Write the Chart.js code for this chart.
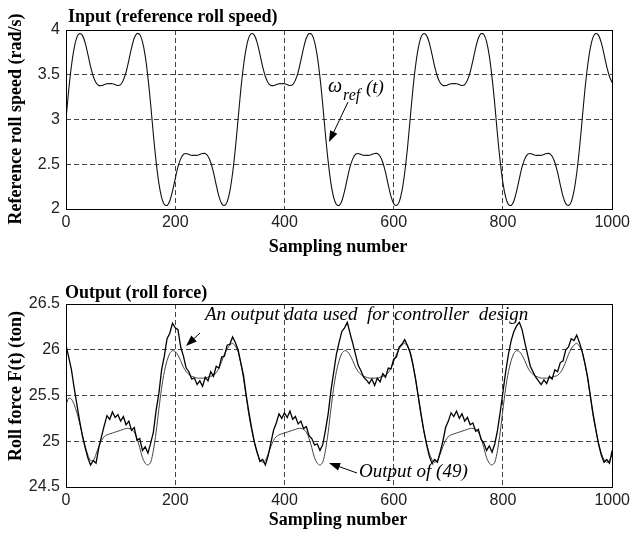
<!DOCTYPE html>
<html>
<head>
<meta charset="utf-8">
<script src="https://cdn.jsdelivr.net/npm/chart.js@4.4.1/dist/chart.umd.min.js"></script>
<style>
  html, body { margin: 0; padding: 0; background: #fff; }
  #wrap { position: relative; width: 634px; height: 535px; }
  .box { position: absolute; left: 0; width: 634px; }
</style>
</head>
<body>
<div id="wrap">
  <div class="box" style="top:0;height:267px"><canvas id="inputChart"></canvas></div>
  <div class="box" style="top:267px;height:268px"><canvas id="outputChart"></canvas></div>
</div>
<script>
// sampling grid: one value every 5 samples, 0..1000
const sampleStep = 5;
const sampleTicks = [0, 200, 400, 600, 800, 1000];
const speedTicks = [2, 2.5, 3, 3.5, 4];
const forceTicks = [24.5, 25, 25.5, 26, 26.5];

// reference roll speed (rad/s)
const refSpeed = [
  3.00,3.33,3.60,3.80,3.92,3.96,3.94,3.86,3.73,3.59,
  3.48,3.41,3.38,3.38,3.39,3.40,3.40,3.40,3.39,3.38,
  3.39,3.44,3.53,3.66,3.80,3.91,3.96,3.95,3.87,3.71,
  3.47,3.17,2.83,2.53,2.29,2.13,2.05,2.04,2.09,2.20,
  2.34,2.47,2.56,2.61,2.62,2.61,2.60,2.60,2.60,2.61,
  2.62,2.62,2.59,2.52,2.41,2.27,2.14,2.06,2.04,2.08,
  2.20,2.40,2.67,
  3.00,3.33,3.60,3.80,3.92,3.96,3.94,3.86,3.73,3.59,
  3.48,3.41,3.38,3.38,3.39,3.40,3.40,3.40,3.39,3.38,
  3.39,3.44,3.53,3.66,3.80,3.91,3.96,3.95,3.87,3.71,
  3.47,3.17,2.83,2.53,2.29,2.13,2.05,2.04,2.09,2.20,
  2.34,2.47,2.56,2.61,2.62,2.61,2.60,2.60,2.60,2.61,
  2.62,2.62,2.59,2.52,2.41,2.27,2.14,2.06,2.04,2.08,
  2.20,2.40,2.67,
  3.00,3.33,3.60,3.80,3.92,3.96,3.94,3.86,3.73,3.59,
  3.48,3.41,3.38,3.38,3.39,3.40,3.40,3.40,3.39,3.38,
  3.39,3.44,3.53,3.66,3.80,3.91,3.96,3.95,3.87,3.71,
  3.47,3.17,2.83,2.53,2.29,2.13,2.05,2.04,2.09,2.20,
  2.34,2.47,2.56,2.61,2.62,2.61,2.60,2.60,2.60,2.61,
  2.62,2.62,2.59,2.52,2.41,2.27,2.14,2.06,2.04,2.08,
  2.20,2.40,2.67,
  3.00,3.33,3.60,3.80,3.92,3.96,3.94,3.86,3.73,3.59,
  3.48,3.41
];

// measured roll force (ton) - the noisy trace
const measuredForce = [
  26.05,25.92,25.78,25.58,25.40,25.22,25.06,24.93,24.82,24.74,
  24.79,24.76,24.93,25.05,25.17,25.28,25.24,25.32,25.26,25.29,
  25.22,25.27,25.18,25.22,25.12,25.15,25.01,25.03,24.90,24.94,
  24.87,24.98,25.10,25.34,25.52,25.78,25.93,26.12,26.18,26.29,
  26.24,26.22,26.03,25.93,25.80,25.76,25.68,25.69,25.62,25.66,
  25.60,25.70,25.66,25.76,25.71,25.82,25.80,25.92,25.93,26.05,
  26.06,26.14,26.08,
  26.00,25.86,25.72,25.50,25.31,25.14,24.99,24.88,24.78,24.80,
  24.74,24.84,24.98,25.12,25.20,25.30,25.25,25.31,25.26,25.33,
  25.24,25.27,25.19,25.22,25.14,25.16,25.06,25.03,24.96,24.97,
  24.90,24.96,25.12,25.30,25.55,25.75,25.95,26.08,26.20,26.24,
  26.30,26.18,26.07,25.95,25.83,25.77,25.70,25.67,25.63,25.68,
  25.61,25.69,25.65,25.74,25.70,25.80,25.79,25.90,25.92,26.03,
  26.06,26.11,26.05,
  25.97,25.84,25.68,25.49,25.30,25.12,24.97,24.84,24.76,24.80,
  24.77,24.88,25.00,25.15,25.22,25.31,25.27,25.33,25.25,25.30,
  25.22,25.26,25.18,25.20,25.11,25.13,25.02,24.98,24.90,24.95,
  24.88,24.97,25.12,25.32,25.54,25.76,25.95,26.10,26.20,26.26,
  26.30,26.22,26.08,25.95,25.82,25.76,25.70,25.66,25.62,25.67,
  25.63,25.71,25.68,25.78,25.76,25.86,25.88,26.00,26.03,26.12,
  26.10,26.16,26.08,
  25.98,25.85,25.70,25.50,25.30,25.13,24.97,24.85,24.77,24.80,
  24.76,24.90
];

// output of model (49) - the smooth trace
const modelForce = [
  25.40,25.47,25.46,25.40,25.31,25.20,25.07,24.95,24.85,24.79,
  24.79,24.86,24.94,25.01,25.05,25.07,25.08,25.09,25.10,25.11,
  25.12,25.13,25.14,25.14,25.13,25.10,25.03,24.93,24.82,24.76,
  24.74,24.77,24.90,25.10,25.35,25.58,25.76,25.88,25.96,25.99,
  25.98,25.94,25.88,25.81,25.76,25.73,25.71,25.70,25.69,25.69,
  25.69,25.69,25.70,25.71,25.72,25.75,25.80,25.87,25.95,26.01,
  26.05,26.07,26.04,
  25.98,25.85,25.68,25.48,25.28,25.12,24.98,24.87,24.80,24.77,
  24.79,24.86,24.94,25.01,25.05,25.07,25.08,25.09,25.10,25.11,
  25.12,25.13,25.14,25.14,25.13,25.10,25.03,24.93,24.82,24.76,
  24.74,24.77,24.90,25.10,25.35,25.58,25.76,25.88,25.96,25.99,
  25.98,25.94,25.88,25.81,25.76,25.73,25.71,25.70,25.69,25.69,
  25.69,25.69,25.70,25.71,25.72,25.75,25.80,25.87,25.95,26.01,
  26.05,26.07,26.04,
  25.98,25.85,25.68,25.48,25.28,25.12,24.98,24.87,24.80,24.77,
  24.79,24.86,24.94,25.01,25.05,25.07,25.08,25.09,25.10,25.11,
  25.12,25.13,25.14,25.14,25.13,25.10,25.03,24.93,24.82,24.76,
  24.74,24.77,24.90,25.10,25.35,25.58,25.76,25.88,25.96,25.99,
  25.98,25.94,25.88,25.81,25.76,25.73,25.71,25.70,25.69,25.69,
  25.69,25.69,25.70,25.71,25.72,25.75,25.80,25.87,25.95,26.01,
  26.05,26.07,26.04,
  25.98,25.85,25.68,25.48,25.28,25.12,24.98,24.87,24.80,24.77,
  24.79,24.86
];

const toPoints = arr => arr.map((v, i) => ({ x: i * sampleStep, y: v }));

const SANS = '"Liberation Sans", Arial, sans-serif';
const SERIF = '"Liberation Serif", "Times New Roman", serif';

function xAxis(h) {
  return {
    type: 'linear', min: 0, max: 1000,
    afterBuildTicks: s => { s.ticks = sampleTicks.map(v => ({ value: v })); },
    afterFit: s => { s.height = h; },
    grid: { color: '#444', lineWidth: 1, drawTicks: false },
    border: { display: false, dash: [5, 3] },
    ticks: { color: '#222', font: { family: SANS, size: 16 }, padding: 4, maxRotation: 0, autoSkip: false,
             callback: v => String(v) }
  };
}

function yAxis(min, max, tickVals) {
  return {
    min: min, max: max,
    afterBuildTicks: s => { s.ticks = tickVals.map(v => ({ value: v })); },
    afterFit: s => { s.width = 66; },
    grid: { color: '#444', lineWidth: 1, drawTicks: false },
    border: { display: false, dash: [5, 3] },
    ticks: { color: '#222', font: { family: SANS, size: 16 }, padding: 6, callback: v => String(v) }
  };
}

function frame(chart) {
  const ctx = chart.ctx, a = chart.chartArea;
  ctx.save();
  ctx.setLineDash([]);
  ctx.strokeStyle = '#000';
  ctx.lineWidth = 1;
  ctx.strokeRect(Math.round(a.left) + 0.5, Math.round(a.top) + 0.5,
    Math.round(a.right - a.left), Math.round(a.bottom - a.top));
  ctx.restore();
}

function arrow(ctx, x1, y1, x2, y2) {
  const ang = Math.atan2(y2 - y1, x2 - x1);
  ctx.save();
  ctx.strokeStyle = '#000';
  ctx.fillStyle = '#000';
  ctx.lineWidth = 1;
  ctx.beginPath();
  ctx.moveTo(x1, y1);
  ctx.lineTo(x2 - 8 * Math.cos(ang), y2 - 8 * Math.sin(ang));
  ctx.stroke();
  ctx.beginPath();
  ctx.moveTo(x2, y2);
  ctx.lineTo(x2 - 11 * Math.cos(ang) + 4 * Math.sin(ang), y2 - 11 * Math.sin(ang) - 4 * Math.cos(ang));
  ctx.lineTo(x2 - 11 * Math.cos(ang) - 4 * Math.sin(ang), y2 - 11 * Math.sin(ang) + 4 * Math.cos(ang));
  ctx.closePath();
  ctx.fill();
  ctx.restore();
}

function label(ctx, str, x, y, font, align, rot) {
  ctx.save();
  ctx.fillStyle = '#000';
  ctx.font = font;
  ctx.textAlign = align || 'left';
  ctx.textBaseline = 'alphabetic';
  ctx.translate(x, y);
  if (rot) ctx.rotate(rot);
  ctx.fillText(str, 0, 0);
  ctx.restore();
}

const inputText = {
  id: 'inputText',
  afterDraw(chart) {
    const ctx = chart.ctx;
    frame(chart);
    label(ctx, 'Input (reference roll speed)', 68, 22, 'bold 18px ' + SERIF);
    label(ctx, 'Sampling number', 338, 252, 'bold 18px ' + SERIF, 'center');
    label(ctx, 'Reference roll speed (rad/s)', 21, 119, 'bold 18px ' + SERIF, 'center', -Math.PI / 2);
    label(ctx, '\u03c9', 328, 92, 'italic 20px ' + SERIF);
    label(ctx, 'ref', 343, 100, 'italic 16px ' + SERIF);
    label(ctx, '(t)', 366, 93, 'italic 19px ' + SERIF);
    arrow(ctx, 348, 102, 329, 142);
  }
};

const outputText = {
  id: 'outputText',
  afterDraw(chart) {
    const ctx = chart.ctx;
    frame(chart);
    label(ctx, 'Output (roll force)', 65, 31, 'bold 18px ' + SERIF);
    label(ctx, 'Sampling number', 338, 258, 'bold 18px ' + SERIF, 'center');
    label(ctx, 'Roll force F(t) (ton)', 21, 119, 'bold 18px ' + SERIF, 'center', -Math.PI / 2);
    label(ctx, 'An output data used  for controller  design', 205, 53, 'italic 19px ' + SERIF);
    arrow(ctx, 200, 66, 186, 79);
    label(ctx, 'Output of (49)', 359, 210, 'italic 19px ' + SERIF);
    arrow(ctx, 357, 206, 329, 196);
  }
};

new Chart(document.getElementById('inputChart'), {
  type: 'line',
  data: {
    datasets: [{
      data: toPoints(refSpeed),
      borderColor: '#111', borderWidth: 1.1, pointRadius: 0, tension: 0.3, fill: false
    }]
  },
  options: {
    responsive: true, maintainAspectRatio: false, animation: false,
    layout: { padding: { top: 30, right: 18, left: 0, bottom: 0 } },
    plugins: { legend: { display: false }, tooltip: { enabled: false } },
    scales: { x: xAxis(58), y: yAxis(2, 4, speedTicks) }
  },
  plugins: [inputText]
});

new Chart(document.getElementById('outputChart'), {
  type: 'line',
  data: {
    datasets: [{
      data: toPoints(measuredForce),
      borderColor: '#000', borderWidth: 1.3, pointRadius: 0, tension: 0, fill: false
    }, {
      data: toPoints(modelForce),
      borderColor: '#444', borderWidth: 1, pointRadius: 0, tension: 0.3, fill: false
    }]
  },
  options: {
    responsive: true, maintainAspectRatio: false, animation: false,
    layout: { padding: { top: 37, right: 18, left: 0, bottom: 0 } },
    plugins: { legend: { display: false }, tooltip: { enabled: false } },
    scales: { x: xAxis(48), y: yAxis(24.5, 26.5, forceTicks) }
  },
  plugins: [outputText]
});
</script>
</body>
</html>
